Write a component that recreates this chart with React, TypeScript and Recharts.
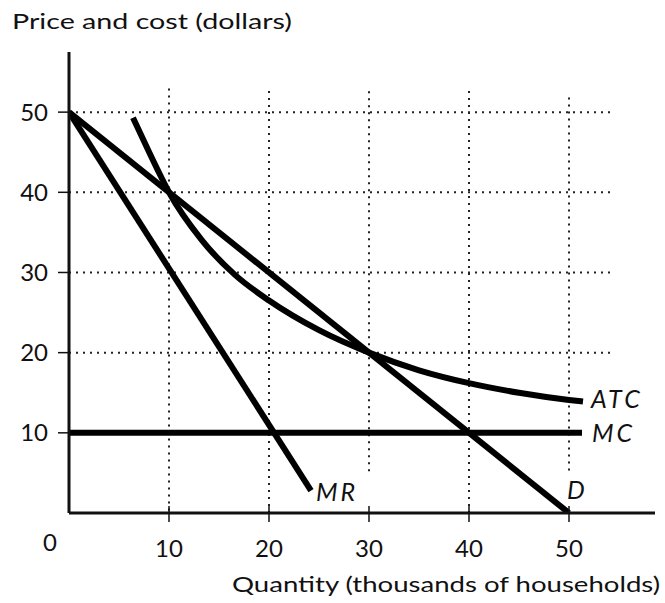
import React from 'react';
import { ComposedChart, Line, XAxis, YAxis, ReferenceLine, ReferenceDot } from 'recharts';

// Demand curve D
const dQ = [0, 50];
const dP = [50, 0];
// Marginal revenue MR
const mrQ = [0, 24.2];
const mrP = [50, 2.8];
// Marginal cost MC
const mcQ = [0, 51.3];
const mcP = [10, 10];
// Average total cost ATC
const atcQ = [6.4, 7.9, 8.9, 10, 13.3, 16.6, 20, 25, 30, 35, 40, 45, 50, 51.4];
const atcP = [49.3, 45.3, 42.7, 40, 34.0, 29.7, 26.5, 22.8, 20, 17.8, 16.2, 15.0, 14.1, 13.9];

// Tick values
const xTicks = [0, 10, 20, 30, 40, 50];
const yTicks = [10, 20, 30, 40, 50];

// Curve labels: [text, q, p]
const curveLabels: [string, number, number][] = [
  ['ATC', 52.2, 14.2],
  ['MC', 52.3, 10],
  ['MR', 24.7, 2.6],
  ['D', 49.8, 2.9],
];

const toRows = (qs: number[], ps: number[]) => qs.map((q, i) => ({ q, p: ps[i] }));

const dData = toRows(dQ, dP);
const mrData = toRows(mrQ, mrP);
const mcData = toRows(mcQ, mcP);
const atcData = toRows(atcQ, atcP);

const FONT = 'Lato, "Open Sans", sans-serif';

// grid extents (styling)
const hGridEnd: Record<number, number> = { 10: 51.3, 20: 54.3, 30: 54.3, 40: 54.3, 50: 54.3 };
const vGridTop: Record<number, number> = { 10: 53.1, 20: 53.1, 30: 53.1, 40: 53.1, 50: 52.4 };
const vGridBottom: Record<number, number> = { 10: 0.3, 20: 0, 30: 5.2, 40: 0, 50: 5.3 };

const XTick = (props: any) => {
  const { x, y, payload } = props;
  if (payload.value === 0) {
    return (
      <text x={x - 19} y={y + 38} textAnchor="middle" fontSize={24} fontFamily={FONT} fill="#111">
        0
      </text>
    );
  }
  return (
    <g>
      <line x1={x} x2={x} y1={y - 7} y2={y + 9} stroke="#111" strokeWidth={1.5} />
      <text x={x} y={y + 44} textAnchor="middle" fontSize={24} fontFamily={FONT} fill="#111">
        {payload.value}
      </text>
    </g>
  );
};

const YTick = (props: any) => {
  const { x, y, payload } = props;
  return (
    <g>
      <line x1={x - 11} x2={x} y1={y} y2={y} stroke="#111" strokeWidth={1.5} />
      <text x={x - 21} y={y + 8.5} textAnchor="end" fontSize={24} fontFamily={FONT} fill="#111">
        {payload.value}
      </text>
    </g>
  );
};

const CurveLabel = (text: string) => (props: any) => {
  const { viewBox } = props;
  const cx = viewBox.x + (viewBox.width || 0) / 2;
  const cy = viewBox.y + (viewBox.height || 0) / 2;
  return (
    <text x={cx} y={cy + 9} fontSize={25} fontStyle="italic" fontFamily={FONT} fill="#111" letterSpacing={3}>
      {text}
    </text>
  );
};

const gridStyle = { stroke: '#222', strokeWidth: 2, strokeDasharray: '2 5' };

export default function App() {
  return (
    <div style={{ position: 'absolute', left: 0, top: 0, width: 665, height: 603, background: '#fff' }}>
      <ComposedChart
        width={665}
        height={603}
        margin={{ top: 52, right: 10, bottom: 60, left: 9 }}
      >
        <XAxis
          dataKey="q"
          type="number"
          domain={[0, 58.6]}
          ticks={xTicks}
          allowDataOverflow
          height={30}
          tickSize={0}
          tickMargin={0}
          tick={<XTick />}
          axisLine={{ stroke: '#111', strokeWidth: 3 }}
          tickLine={false}
          interval={0}
        />
        <YAxis
          dataKey="p"
          type="number"
          domain={[0, 57.5]}
          ticks={yTicks}
          allowDataOverflow
          width={60}
          tickSize={0}
          tickMargin={0}
          tick={<YTick />}
          axisLine={{ stroke: '#111', strokeWidth: 3 }}
          tickLine={false}
          interval={0}
        />
        {yTicks.map((v) => (
          <ReferenceLine
            key={'h' + v}
            segment={[{ x: 0, y: v }, { x: hGridEnd[v], y: v }]}
            {...gridStyle}
            ifOverflow="visible"
          />
        ))}
        {yTicks.map((v) => (
          <ReferenceLine
            key={'v' + v}
            segment={[{ x: v, y: vGridBottom[v] }, { x: v, y: vGridTop[v] }]}
            {...gridStyle}
            ifOverflow="visible"
          />
        ))}
        <Line data={mcData} dataKey="p" type="linear" stroke="#000" strokeWidth={6} dot={false} isAnimationActive={false} />
        <Line data={dData} dataKey="p" type="linear" stroke="#000" strokeWidth={6} dot={false} isAnimationActive={false} />
        <Line data={mrData} dataKey="p" type="linear" stroke="#000" strokeWidth={6} dot={false} isAnimationActive={false} />
        <Line data={atcData} dataKey="p" type="monotone" stroke="#000" strokeWidth={6} dot={false} isAnimationActive={false} />
        {curveLabels.map(([t, q, p]) => (
          <ReferenceDot key={t} x={q} y={p} r={0} ifOverflow="visible" label={CurveLabel(t)} fill="none" stroke="none" />
        ))}
      </ComposedChart>
      <svg width={665} height={603} style={{ position: 'absolute', left: 0, top: 0, pointerEvents: 'none' }}>
        <text x={12} y={29} fontSize={21} fontFamily={FONT} fill="#111" textLength={280} lengthAdjust="spacingAndGlyphs">
          Price and cost (dollars)
        </text>
        <text x={232} y={592} fontSize={22} fontFamily={FONT} fill="#111" textLength={428} lengthAdjust="spacingAndGlyphs">
          Quantity (thousands of households)
        </text>
      </svg>
    </div>
  );
}
